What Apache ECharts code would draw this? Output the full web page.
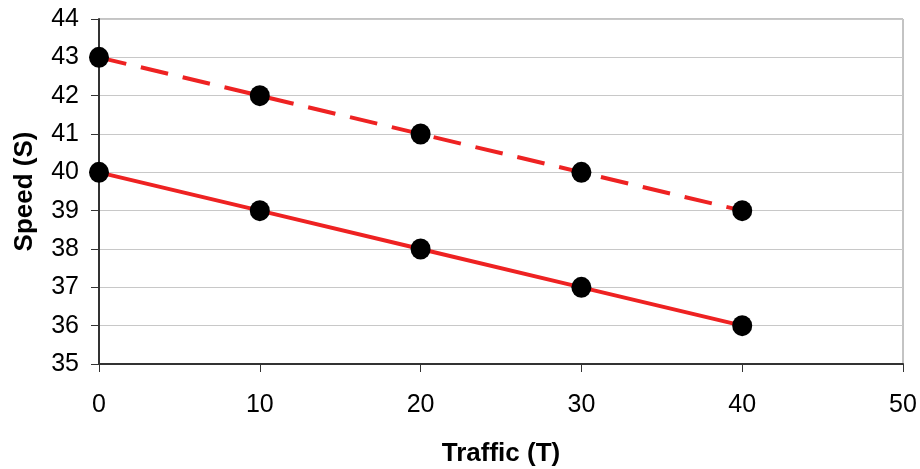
<!DOCTYPE html>
<html><head><meta charset="utf-8">
<script src="https://cdn.jsdelivr.net/npm/echarts@6/dist/echarts.min.js"></script>
<style>html,body{margin:0;padding:0;background:#fff}#c{width:920px;height:469px}</style>
</head><body><div id="c"></div>
<script>
const traffic = [0, 10, 20, 30, 40];
const speedSolid = [40, 39, 38, 37, 36];
const speedDashed = [43, 42, 41, 40, 39];
const xTicks = [0, 10, 20, 30, 40, 50];
const yTicks = [35, 36, 37, 38, 39, 40, 41, 42, 43, 44];

const chart = echarts.init(document.getElementById('c'));
const font = 'Liberation Sans, Arial, sans-serif';
chart.setOption({
  animation: false,
  grid: { left: 99, right: 17, top: 19, bottom: 105, show: true, borderColor: '#888', borderWidth: 1,
          outerBoundsMode: 'none', containLabel: false },
  xAxis: {
    type: 'value', min: xTicks[0], max: xTicks[xTicks.length-1], interval: 10,
    name: 'Traffic (T)', nameLocation: 'middle', nameGap: 77,
    nameTextStyle: { fontFamily: font, fontSize: 26, fontWeight: 'bold', color: '#000' },
    axisLine: { onZero: false, lineStyle: { color: '#333', width: 2 } },
    axisTick: { show: true, length: 8, lineStyle: { color: '#333' } },
    axisLabel: { fontFamily: font, fontSize: 25, color: '#000', margin: 29 },
    splitLine: { show: false }
  },
  yAxis: {
    type: 'value', min: yTicks[0], max: yTicks[yTicks.length-1], interval: 1,
    name: 'Speed (S)', nameLocation: 'middle', nameGap: 61, nameRotate: 90,
    nameTextStyle: { fontFamily: font, fontSize: 26, fontWeight: 'bold', color: '#000' },
    axisLine: { show: true, onZero: false, lineStyle: { color: '#333', width: 2 } },
    axisTick: { show: true, length: 8, lineStyle: { color: '#333' } },
    axisLabel: { fontFamily: font, fontSize: 25, color: '#000', margin: 20 },
    splitLine: { show: true, lineStyle: { color: '#c8c8c8', width: 1 } }
  },
  series: [
    {
      type: 'line', data: traffic.map((t, i) => [t, speedDashed[i]]),
      lineStyle: { color: '#ee2222', width: 4, type: [28, 15] },
      symbol: 'circle', symbolSize: [20, 21], itemStyle: { color: '#000' }, z: 3
    },
    {
      type: 'line', data: traffic.map((t, i) => [t, speedSolid[i]]),
      lineStyle: { color: '#ee2222', width: 4 },
      symbol: 'circle', symbolSize: [20, 21], itemStyle: { color: '#000' }, z: 3
    }
  ]
});
</script></body></html>
